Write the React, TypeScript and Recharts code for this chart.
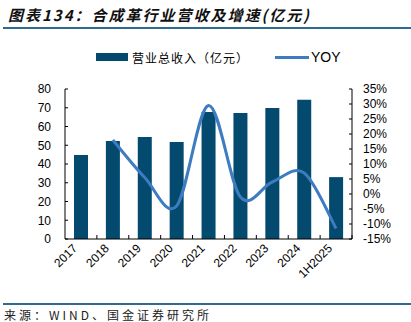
import {
  Bar,
  ComposedChart,
  Line,
  XAxis,
  YAxis,
} from 'recharts';

const categories = ['2017', '2018', '2019', '2020', '2021', '2022', '2023', '2024', '1H2025'];
const revenue = [44.8, 52.3, 54.4, 51.8, 67.7, 67.2, 69.9, 74.3, 33.0];
const yoy: (number | null)[] = [null, 18.0, 5.5, -4.0, 29.5, -1.0, 4.0, 7.0, -11.5];
const leftTicks = [0, 10, 20, 30, 40, 50, 60, 70, 80];
const rightTicks = [-15, -10, -5, 0, 5, 10, 15, 20, 25, 30, 35];

const data = categories.map((name, i) => ({ name, revenue: revenue[i], yoy: yoy[i] }));

const BAR = '#034a6e';
const LINE = '#3d7cc0';
const RULE = '#2f6b8f';
const FONT = '"Liberation Sans", Arial, sans-serif';
const CJK = '"Noto Sans CJK SC", sans-serif';

// Excel-style smooth line (Catmull-Rom through the points)
const smoothCurve = (context: any) => {
  let pts: [number, number][] = [];
  return {
    areaStart() {},
    areaEnd() {},
    lineStart() {
      pts = [];
    },
    point(x: number, y: number) {
      pts.push([+x, +y]);
    },
    lineEnd() {
      if (!pts.length) return;
      context.moveTo(pts[0][0], pts[0][1]);
      for (let i = 0; i < pts.length - 1; i++) {
        const p0 = pts[i - 1] || pts[i];
        const p1 = pts[i];
        const p2 = pts[i + 1];
        const p3 = pts[i + 2] || p2;
        context.bezierCurveTo(
          p1[0] + (p2[0] - p0[0]) / 6,
          p1[1] + (p2[1] - p0[1]) / 6,
          p2[0] - (p3[0] - p1[0]) / 6,
          p2[1] - (p3[1] - p1[1]) / 6,
          p2[0],
          p2[1],
        );
      }
    },
  };
};

const XTick = (props: any) => {
  const { x, y, payload } = props;
  const half = payload?.offset || 16;
  return (
    <g>
      <line x1={x + half} x2={x + half} y1={y - 8} y2={y - 12} stroke="#000" />
      <text
        x={x - 3}
        y={y + 2}
        textAnchor="end"
        fontSize={12}
        fontFamily={FONT}
        fill="#000"
        transform={`rotate(-45 ${x - 3} ${y + 2})`}
      >
        {payload.value}
      </text>
    </g>
  );
};

export default function App() {
  return (
    <div style={{ position: 'absolute', left: 0, top: 0, width: 411, height: 322, background: '#fff' }}>
      <div
        style={{
          position: 'absolute',
          left: 8,
          top: 5,
          fontFamily: CJK,
          fontSize: 15,
          fontWeight: 700,
          fontStyle: 'italic',
          letterSpacing: 2,
          color: '#111',
          whiteSpace: 'nowrap',
          lineHeight: '20px',
        }}
      >
        图表134：合成革行业营收及增速(亿元)
      </div>
      <div style={{ position: 'absolute', left: 3, right: 0, top: 27, height: 2, background: RULE }} />

      <div
        style={{
          position: 'absolute',
          left: 96,
          top: 47,
          display: 'flex',
          alignItems: 'center',
          fontFamily: CJK,
          fontSize: 12,
          color: '#000',
          whiteSpace: 'nowrap',
          height: 20,
        }}
      >
        <span style={{ width: 32, height: 8, background: BAR, display: 'inline-block', marginRight: 4 }} />
        <span style={{ letterSpacing: 1 }}>营业总收入（亿元）</span>
        <span style={{ width: 34, height: 3, background: LINE, display: 'inline-block', marginLeft: 26, marginRight: 2 }} />
        <span style={{ fontFamily: FONT, fontSize: 14 }}>YOY</span>
      </div>

      <ComposedChart
        width={411}
        height={300}
        data={data}
        margin={{ top: 89, right: 0, bottom: 0, left: 0 }}
        barCategoryGap="28%"
      >
        <XAxis
          dataKey="name"
          height={61}
          axisLine={{ stroke: '#000' }}
          tickLine={false}
          tick={<XTick />}
          interval={0}
        />
        <YAxis
          yAxisId="left"
          width={65}
          domain={[0, 80]}
          ticks={leftTicks}
          interval={0}
          axisLine={{ stroke: '#000' }}
          tickLine={{ stroke: '#000' }}
          tickSize={-3}
          tickMargin={17}
          tick={{ fill: '#000', fontSize: 12, fontFamily: FONT }}
        />
        <YAxis
          yAxisId="right"
          orientation="right"
          width={59}
          domain={[-15, 35]}
          ticks={rightTicks}
          interval={0}
          axisLine={{ stroke: '#000' }}
          tickLine={{ stroke: '#000' }}
          tickSize={-3}
          tickMargin={14}
          tickFormatter={(v: number) => `${v}%`}
          tick={{ fill: '#000', fontSize: 12, fontFamily: FONT, textAnchor: 'start' }}
        />
        <Bar yAxisId="left" dataKey="revenue" fill={BAR} barSize={14} isAnimationActive={false} />
        <Line
          yAxisId="right"
          dataKey="yoy"
          type={smoothCurve as any}
          stroke={LINE}
          strokeWidth={3}
          dot={false}
          activeDot={false}
          connectNulls={false}
          isAnimationActive={false}
        />
      </ComposedChart>

      <div style={{ position: 'absolute', left: 3, right: 0, top: 303, height: 2, background: RULE }} />
      <div
        style={{
          position: 'absolute',
          left: 4,
          top: 307,
          fontFamily: CJK,
          fontSize: 12,
          letterSpacing: 3,
          color: '#222',
          whiteSpace: 'nowrap',
          lineHeight: '16px',
        }}
      >
        来源：WIND、国金证券研究所
      </div>
    </div>
  );
}
